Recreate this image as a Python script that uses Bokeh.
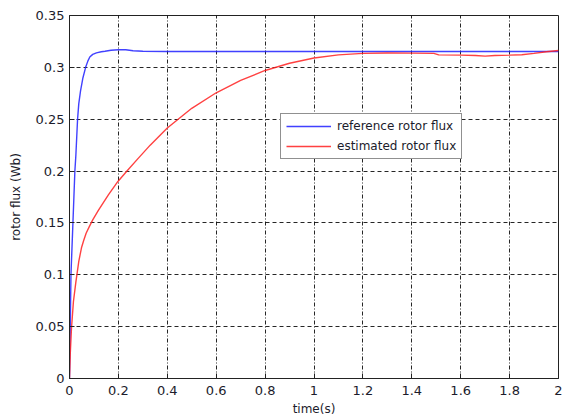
from bokeh.plotting import figure
from bokeh.models import Range1d, FixedTicker, CustomJSTickFormatter, Legend, LegendItem
from bokeh.embed import file_html
from bokeh.resources import INLINE

# time axis (s) and flux values (Wb)
t_ref = [0, 0.002, 0.004, 0.006, 0.010, 0.014, 0.018, 0.022, 0.026, 0.030, 0.033,
         0.038, 0.045, 0.055, 0.066, 0.075, 0.083, 0.095, 0.11, 0.13, 0.145, 0.17,
         0.2, 0.23, 0.26, 0.3, 0.4, 0.6, 0.8, 1.0, 1.2, 1.4, 1.6, 1.8, 2.0]
flux_ref = [0, 0.03, 0.065, 0.1, 0.125, 0.15, 0.175, 0.2, 0.215, 0.235, 0.25,
            0.265, 0.277, 0.29, 0.3, 0.306, 0.31, 0.3125, 0.314, 0.315, 0.3155, 0.3165,
            0.317, 0.317, 0.316, 0.3155, 0.3153, 0.3153, 0.3153, 0.3153, 0.3153, 0.3153,
            0.3153, 0.3153, 0.3153]

t_est = [0, 0.003, 0.008, 0.016, 0.026, 0.038, 0.049, 0.058, 0.068, 0.08, 0.095, 0.118,
         0.159, 0.198, 0.235, 0.28, 0.33, 0.4, 0.5, 0.6, 0.7, 0.8, 0.9, 1.0, 1.1,
         1.2, 1.3, 1.4, 1.49, 1.51, 1.6, 1.66, 1.7, 1.74, 1.8, 1.85, 1.9, 1.95, 2.0]
flux_est = [0, 0.023, 0.048, 0.074, 0.093, 0.113, 0.126, 0.133, 0.14, 0.146, 0.153, 0.162,
            0.177, 0.19, 0.2, 0.212, 0.225, 0.2415, 0.2605, 0.2755, 0.2875, 0.297, 0.304,
            0.309, 0.312, 0.3135, 0.3138, 0.3137, 0.3135, 0.312, 0.3118, 0.3115, 0.3108,
            0.3115, 0.3118, 0.3122, 0.3135, 0.315, 0.3163]

x_ticks = [0, 0.2, 0.4, 0.6, 0.8, 1, 1.2, 1.4, 1.6, 1.8, 2]
y_ticks = [0, 0.05, 0.1, 0.15, 0.2, 0.25, 0.3, 0.35]

series_labels = ["reference rotor flux", "estimated rotor flux"]
x_title = "time(s)"
y_title = "rotor flux (Wb)"

p = figure(width=566, height=418, output_backend="svg", toolbar_location=None,
           x_range=Range1d(0, 2), y_range=Range1d(0, 0.35),
           min_border_left=69, min_border_right=8, min_border_top=15, min_border_bottom=36)
p.background_fill_color = "white"
p.border_fill_color = "white"
p.outline_line_color = "#222222"
p.outline_line_width = 1

fmt = CustomJSTickFormatter(code="return String(Math.round(tick*1000)/1000);")
p.xaxis.ticker = FixedTicker(ticks=x_ticks)
p.yaxis.ticker = FixedTicker(ticks=y_ticks)
p.xaxis.formatter = fmt
p.yaxis.formatter = fmt
for ax in (p.xaxis, p.yaxis):
    ax.major_tick_in = 5
    ax.major_tick_out = 0
    ax.minor_tick_in = 0
    ax.minor_tick_out = 0
    ax.axis_line_color = "#222222"
    ax.major_tick_line_color = "#222222"
    ax.major_label_text_font = "DejaVu Sans"
    ax.major_label_text_font_size = "13px"
    ax.major_label_text_color = "#1c1c2c"
    ax.axis_label_text_font = "DejaVu Sans"
    ax.axis_label_text_font_size = "12px"
    ax.axis_label_text_font_style = "normal"
    ax.axis_label_text_color = "#1c1c2c"
p.xaxis.major_label_standoff = 7
p.yaxis.major_label_standoff = 5
p.xaxis.axis_label_standoff = 4
p.yaxis.axis_label_standoff = 10
p.xaxis.axis_label = x_title
p.yaxis.axis_label = y_title

p.xgrid.grid_line_color = "black"
p.xgrid.grid_line_dash = "4 2 1 2"
p.xgrid.grid_line_width = 1
p.xgrid.grid_line_alpha = 0.85
p.ygrid.grid_line_color = "black"
p.ygrid.grid_line_dash = "4 3"
p.ygrid.grid_line_width = 1
p.ygrid.grid_line_alpha = 0.85

r1 = p.line(t_ref, flux_ref, line_color="#2020ff", line_width=1.4, line_alpha=0.85)
r2 = p.line(t_est, flux_est, line_color="#ff2020", line_width=1.4, line_alpha=0.85)

legend = Legend(items=[LegendItem(label=series_labels[0], renderers=[r1]),
                       LegendItem(label=series_labels[1], renderers=[r2])],
                location=(211, 219))
legend.label_text_font = "DejaVu Sans"
legend.label_text_font_size = "12px"
legend.label_text_color = "#1c1c2c"
legend.glyph_width = 45
legend.glyph_height = 14
legend.label_height = 14
legend.label_standoff = 6
legend.spacing = 6
legend.padding = 5
legend.margin = 0
legend.border_line_color = "#222222"
legend.border_line_width = 1
legend.background_fill_color = "white"
legend.background_fill_alpha = 1
p.add_layout(legend, "center")

open("out.html", "w").write(file_html(p, INLINE))
